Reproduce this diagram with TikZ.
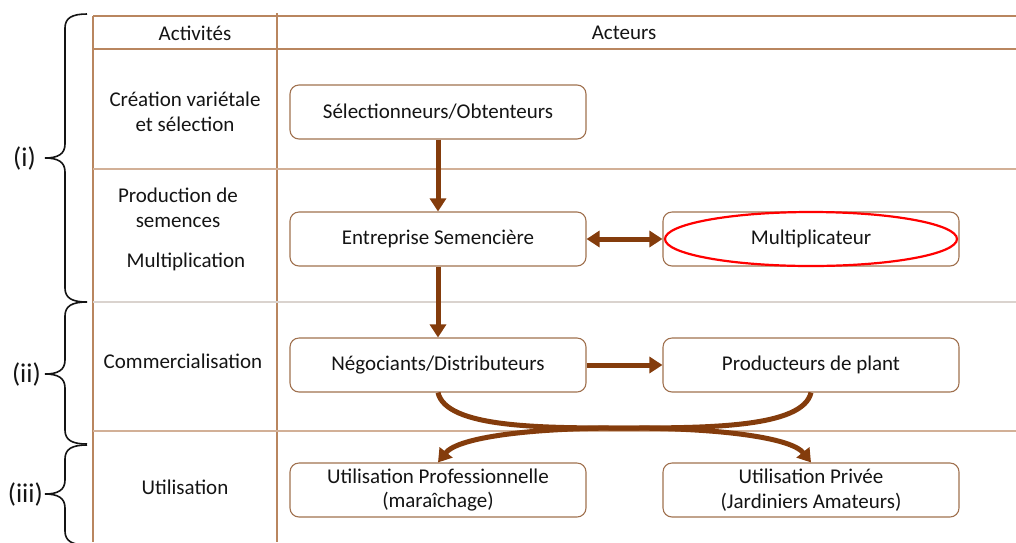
\documentclass[tikz,border=0pt]{standalone}
\usepackage{fontspec}
\setmainfont{Carlito}
\usepackage{tikz}
\usetikzlibrary{arrows.meta}
\definecolor{arrowbrown}{HTML}{843C0C}
\definecolor{boxbrown}{HTML}{A0714F}
\definecolor{gridbrown}{HTML}{B9865F}
\definecolor{rowbrown}{HTML}{D2B097}
\definecolor{rowgray}{HTML}{DAD3CE}
\definecolor{ink}{HTML}{141414}

\begin{document}
\begin{tikzpicture}[x=1pt,y=-1pt,
    actor/.style={draw=boxbrown, line width=1.1pt, rounded corners=9pt, minimum width=296pt, minimum height=54pt, align=center, text=ink, font=\fontsize{21}{24.5}\selectfont},
    activity/.style={align=center, text=ink, font=\fontsize{21}{24.5}\selectfont},
    flow/.style={arrowbrown, line width=5pt, -{Triangle[width=16pt,length=13pt]}},
    twoway/.style={arrowbrown, line width=5pt, {Triangle[width=16pt,length=13pt]}-{Triangle[width=16pt,length=13pt]}},
    grouplabel/.style={anchor=east, inner sep=0pt, text=ink, font=\fontsize{27}{30}\selectfont}]
      \useasboundingbox (0,0) rectangle (1016,542);
      \draw[gridbrown, line width=1.3pt] (93,16) -- (1016,16) (93,49) -- (1016,49);
      \draw[gridbrown, line width=1.2pt] (93,16) -- (93,542) (277,13) -- (277,542);
      \draw[rowbrown, line width=1.1pt] (93,169) -- (1016,169) (93,431) -- (1016,431);
      \draw[rowgray, line width=1.1pt] (93,302) -- (1016,302);
      \node[activity] (hact) at (195,33) {Activités};
      \node[activity] (hactors) at (624,33) {Acteurs};
      \node[activity] (creation) at (185,112) {Création variétale\\et sélection};
      \node[activity] (production) at (178,208) {Production de\\semences};
      \node[activity] (multiplication) at (186,262) {Multiplication};
      \node[activity] (commerce) at (183,361) {Commercialisation};
      \node[activity] (usage) at (185,487) {Utilisation};
      \node[actor] (sel) at (438,112) {Sélectionneurs/Obtenteurs};
      \node[actor] (ent) at (438,239) {Entreprise Semencière};
      \node[actor] (multi) at (811,239) {Multiplicateur};
      \node[actor] (neg) at (438,365) {Négociants/Distributeurs};
      \node[actor] (prod) at (811,365) {Producteurs de plant};
      \node[actor] (pro) at (438,490) {Utilisation Professionnelle\\(maraîchage)};
      \node[actor] (priv) at (811,490) {Utilisation Privée\\(Jardiniers Amateurs)};
      \draw[red, line width=2.2pt] (multi.center) ellipse [x radius=146pt, y radius=27pt];
      \draw[flow] (sel) -- (ent);
      \draw[flow] (ent) -- (neg);
      \draw[twoway] (ent) -- (multi);
      \draw[flow] (neg) -- (prod);
      \coordinate (cross) at (624,428);
      \draw[flow] (neg.south) .. controls +(8,35) and +(-85,0) .. (cross) .. controls +(95,0) and +(-20,-25) .. (priv.north);
      \draw[flow] (prod.south) .. controls +(-8,35) and +(85,0) .. (cross) .. controls +(-95,0) and +(20,-25) .. (pro.north);
      \foreach \ya/\yb/\yc/\xl/\lbl/\nm in {14/158/302/36/(i)/gone, 302/374/444/41/(ii)/gtwo, 445/494/545/43/(iii)/gthree}{
        \draw[ink, line width=1.6pt] (87,\ya) .. controls (72,\ya) and (65,\ya+4) .. (65,\ya+14) -- (65,\yb-14) .. controls (65,\yb-4) and (58,\yb) .. (45,\yb) .. controls (58,\yb) and (65,\yb+4) .. (65,\yb+14) -- (65,\yc-14) .. controls (65,\yc-4) and (72,\yc) .. (87,\yc);
        \node[grouplabel] (\nm) at (\xl,\yb) {\lbl};
      }
    \end{tikzpicture}
\end{document}
